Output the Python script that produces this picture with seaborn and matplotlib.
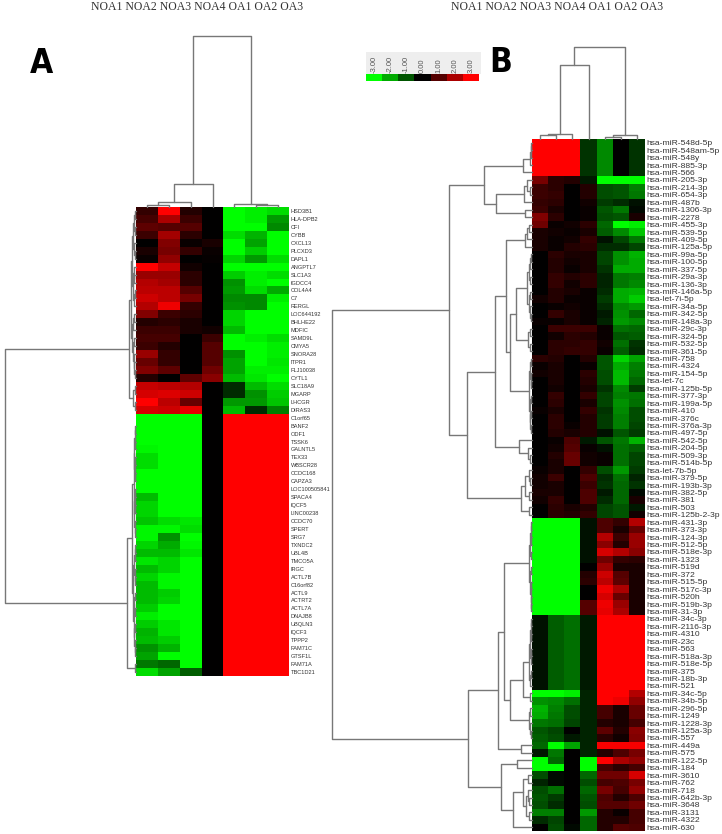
import matplotlib
matplotlib.use("Agg")
import matplotlib.pyplot as plt
from matplotlib.colors import LinearSegmentedColormap
import pandas as pd
import seaborn as sns

W, H = 722, 834

samples = ["NOA1", "NOA2", "NOA3", "NOA4", "OA1", "OA2", "OA3"]

genes = ["HSD3B1", "HLA-DPB2", "CFI", "CYBB", "CXCL13", "PLCXD3", "DAPL1", "ANGPTL7", "SLC1A3", "IGDCC4",
         "COL4A4", "C7", "RERGL", "LOC644192", "BHLHE22", "MDFIC", "SAMD9L", "CMYA5", "SNORA28", "ITPR1",
         "FLJ10038", "CYTL1", "SLC18A9", "MGARP", "LHCGR", "DIRAS3", "C1orf65", "BANF2", "ODF1", "TSSK6",
         "GALNTL5", "TEX33", "WBSCR28", "CCDC168", "CAPZA3", "LOC100505841", "SPACA4", "IQCF5", "LINC00238",
         "CCDC70", "SPERT", "SRG7", "TXNDC2", "UBL4B", "TMCO5A", "IRGC", "ACTL7B", "C16orf82", "ACTL9",
         "ACTRT2", "ACTL7A", "DNAJB8", "UBQLN3", "IQCF3", "TPPP2", "FAM71C", "GTSF1L", "FAM71A", "TBC1D21"]

genes_up = [
    [.6, 3, .4, 0, -3, -2.8, -2.6], [.8, 2, .7, 0, -3, -2.8, -1.8], [1.1, 1, 1, 0, -3, -3, -1.6],
    [.7, 1.9, .5, 0, -2.6, -2.1, -3], [0, 1.5, .1, .3, -3, -1.9, -3], [.3, 1.4, .6, .1, -3, -2.4, -3],
    [.1, 1.7, 0, .05, -2.5, -1.8, -2.6], [3, 2.3, .2, 0, -3, -3, -3], [1.8, 1.8, .5, 0, -2.4, -2.8, -2.6],
    [2.1, 1.9, .5, 0, -1.7, -2.8, -3], [2.2, 2.2, 1, 0, -1.8, -2.6, -2], [2.4, 2.2, 1.4, 0, -1.6, -1.6, -2.8],
    [2.1, 2.8, .6, 0, -1.7, -1.6, -3], [1.5, .7, .5, 0, -2.5, -3, -3], [.4, .5, .3, 0, -2.5, -3, -3],
    [.7, .7, .3, .2, -2.2, -3, -3], [.8, .8, 0, .7, -3, -2.8, -2.6], [.7, .4, 0, 1, -3, -3, -2.8],
    [1.8, .6, 0, 1, -1.7, -3, -2.8], [1.2, .6, 0, 1, -1.9, -3, -2.7], [1.5, 1.1, 0, 1.3, -1.9, -2.8, -2.8],
    [.4, 0, 1.1, 1.6, -2.2, -2.7, -3], [2.3, 2.2, 2.1, 0, -.5, -2.2, -2.6], [2.5, 2.6, 2.4, 0, -.5, -1.7, -2.4],
    [3, 2.2, 1.2, 0, -1.8, -1.8, -2.3], [2.5, 2.4, 2.7, 0, -2.2, -.5, -1.5],
]
genes_down = [
    [-3, -3, -3, 0, 3, 3, 3], [-3, -3, -3, 0, 3, 3, 3], [-3, -3, -3, 0, 3, 3, 3], [-3, -3, -3, 0, 3, 3, 3],
    [-2.9, -3, -3, 0, 3, 3, 3], [-2.6, -3, -3, 0, 3, 3, 3], [-2.6, -3, -3, 0, 3, 3, 3], [-3, -3, -3, 0, 3, 3, 3],
    [-3, -3, -3, 0, 3, 3, 3], [-3, -3, -3, 0, 3, 3, 3], [-2.2, -3, -3, 0, 3, 3, 3], [-2.5, -3, -3, 0, 3, 3, 3],
    [-2.5, -3, -3, 0, 3, 3, 3], [-2.3, -2.6, -2.7, 0, 3, 3, 3], [-2.9, -2.9, -2.6, 0, 3, 3, 3],
    [-2.9, -1.7, -3, 0, 3, 3, 3], [-2.5, -2, -2.9, 0, 3, 3, 3], [-2.2, -2.2, -2.7, 0, 3, 3, 3],
    [-2.7, -2.5, -3, 0, 3, 3, 3], [-2.2, -2.5, -3, 0, 3, 3, 3], [-2.5, -2.9, -3, 0, 3, 3, 3],
    [-2.2, -2.9, -3, 0, 3, 3, 3], [-2.2, -2.4, -3, 0, 3, 3, 3], [-2.2, -2.5, -3, 0, 3, 3, 3],
    [-2.4, -3, -3, 0, 3, 3, 3], [-2.8, -3, -3, 0, 3, 3, 3], [-2.4, -2.7, -3, 0, 3, 3, 3],
    [-2.1, -2.7, -3, 0, 3, 3, 3], [-2.2, -2.4, -3, 0, 3, 3, 3], [-1.7, -2.1, -3, 0, 3, 3, 3],
    [-1.9, -3, -3, 0, 3, 3, 3], [-1.4, -1.2, -3, 0, 3, 3, 3], [-2.6, -1.9, -1.1, 0, 3, 3, 3],
]

mirnas = ["548d-5p", "548am-5p", "548y", "885-3p", "566", "205-3p", "214-3p", "654-3p", "487b", "1306-3p", "2278",
          "455-3p", "539-5p", "409-5p", "125a-5p", "99a-5p", "100-5p", "337-5p", "29a-3p", "136-3p", "146a-5p",
          "let-7i-5p", "34a-5p", "342-5p", "148a-3p", "29c-3p", "324-5p", "532-5p", "361-5p", "758", "4324",
          "154-5p", "let-7c", "125b-5p", "377-3p", "199a-5p", "410", "376c", "376a-3p", "497-5p", "542-5p",
          "204-5p", "509-3p", "514b-5p", "let-7b-5p", "379-5p", "193b-3p", "382-5p", "381", "503", "125b-2-3p",
          "431-3p", "373-3p", "124-3p", "512-5p", "518e-3p", "1323", "519d", "372", "515-5p", "517c-3p", "520h",
          "519b-3p", "31-3p", "34c-3p", "2116-3p", "4310", "23c", "563", "518a-3p", "518e-5p", "375", "18b-3p",
          "521", "34c-5p", "34b-5p", "296-5p", "1249", "1228-3p", "125a-3p", "557", "449a", "575", "122-5p",
          "184", "3610", "762", "718", "642b-3p", "3648", "3131", "4322", "630"]

mirna_rows = [
    [3, 3, 3, -.6, -1.6, 0, -.6], [3, 3, 3, -.6, -1.6, 0, -.6], [3, 3, 3, -.6, -1.6, 0, -.6],
    [3, 3, 3, -.6, -1.6, 0, -.6], [3, 3, 3, -.6, -1.6, 0, -.6], [1.4, .5, .4, -.3, -3, -3, -3],
    [.7, .5, 0, .4, -.9, -1, -1.5], [.7, .6, 0, .4, -.9, -1, -1.4], [.6, .5, 0, .2, -.7, -.5, -.2],
    [.7, .3, 0, .1, -1, -1.4, -.1], [1.5, .5, 0, .1, -.9, -1, .3], [1.3, .1, .2, .5, -1.2, -3, -2.8],
    [.3, .2, .1, .3, -1.1, -1.6, -2.3], [.3, .1, .2, .6, -.2, -.8, -1.4], [.3, .1, .4, .5, -.5, -.5, -.8],
    [0, .5, .3, .3, -.8, -1.7, -2.1], [0, .4, .2, .3, -.8, -1.7, -2], [0, .4, .1, .3, -.6, -2, -2],
    [0, .6, .4, .5, -.4, -1.4, -1.5], [0, .6, .2, .5, -.4, -1.4, -1.6], [0, .4, .3, .1, -.5, -2, -2.1],
    [.2, .4, .1, .1, -.7, -2, -2.4], [0, .1, .2, .1, -.5, -1.6, -1.8], [0, .6, .3, .1, -.3, -1.7, -1.2],
    [.1, .1, .3, .1, -.4, -1.8, -1.6], [0, .7, .7, .7, .1, -1.3, -1.2], [0, .2, .5, .4, .1, -1, -1.1],
    [0, .5, .5, .6, .2, -1.3, -.6], [0, .5, .6, .6, .1, -1.1, -.5], [.5, .4, 0, .4, -1, -2.5, -1.9],
    [.1, .3, 0, .1, -1, -2, -1.5], [.2, .3, 0, .5, -.9, -2.2, -1.4], [0, .3, 0, .4, -.9, -2.2, -1.2],
    [0, .2, 0, .3, -.6, -1.6, -.7], [0, .6, 0, .6, -.8, -1.5, -1.4], [0, .5, 0, .3, -.8, -1.7, -1.3],
    [.1, .3, 0, .6, -.6, -1.6, -.9], [0, .5, 0, .4, -.7, -1.5, -.9], [0, .5, .1, .4, -.7, -1.5, -.8],
    [0, .4, .3, .4, -.2, -1, -.7], [0, .1, .9, -.3, -1, -1.4, -2.1], [0, .2, 1, .1, -.2, -1.3, -1.1],
    [0, .4, 1.2, .2, .1, -1.3, -.8], [0, .3, 1.2, .2, .1, -1.3, -.8], [.1, .3, 0, .6, -.9, -1.8, -.7],
    [.2, .7, 0, .9, -.5, -1.3, -.4], [.2, .3, 0, .7, -.6, -1.2, -.6], [.3, .3, 0, .9, -.3, -1.2, -.1],
    [.2, .6, 0, .9, -.5, -1.2, .3], [0, .5, .3, .4, -.8, -1, -.3], [0, .5, .4, .6, -.8, -1, .2],
    [-3, -3, -3, -.2, .9, .6, 2.1], [-3, -3, -3, -.2, .9, .3, 1.2], [-3, -3, -3, -.2, 2.1, .7, 1.8],
    [-3, -3, -3, -.2, 1.6, .4, 1.8], [-3, -3, -3, -.2, 2.5, 2.1, 1.6], [-3, -3, -3, -.2, 1.3, .6, .5],
    [-3, -3, -3, 0, 1.8, .3, .3], [-3, -3, -3, .4, 2.4, 1, .3], [-3, -3, -3, .5, 2.2, 1.1, .3],
    [-3, -3, -3, 0, 2.8, 2, .3], [-3, -3, -3, 0, 2.5, 1.2, .3], [-3, -3, -3, 1, 2.8, 1.8, .3],
    [-3, -3, -3, 1, 2.7, 2, .3], [-.2, -1.1, -1.3, -.3, 3, 3, 3], [-.2, -1.1, -1.3, -.3, 3, 3, 3],
    [-.2, -1.1, -1.3, -.3, 3, 3, 3], [-.2, -1.1, -1.3, -.3, 3, 3, 3], [-.2, -1.1, -1.3, -.3, 3, 3, 3],
    [-.2, -1.1, -1.3, -.3, 3, 3, 3], [-.2, -1.1, -1.3, -.3, 3, 3, 3], [-.2, -1.1, -1.3, -.3, 3, 3, 3],
    [-.2, -1.1, -1.3, -.3, 3, 3, 3], [-.2, -1.1, -1.3, -.3, 3, 3, 3], [-3, -3, -2.8, -.4, 3, 3, 2.1],
    [-1.7, -1.6, -1.3, -.4, 3, 2.8, 1.7], [-2.1, -1.5, -.9, -.4, .8, .3, 1.2], [-2, -1.4, -.9, -.4, .8, .3, 1.2],
    [-1.4, -1.3, -.8, -.4, .4, .3, .8], [-1, -.8, 0, -.4, 1.1, .4, 1.6], [-1.1, -.9, -.3, -.4, .5, .2, 1.5],
    [-1.2, -3, -1.9, -.4, 2.9, 2.9, 2.9], [-.3, -1.4, 0, -.4, .4, .9, 1.4], [-3, -1.2, 0, -3, 3, 2, 1.7],
    [-3, -3, 0, -3, .8, .5, .8], [-.9, -.1, 0, -1.2, 1.3, 1.3, 2.5], [-.4, -.1, 0, -.9, .8, .9, 1.4],
    [-.9, -1.3, 0, -1.2, 1.4, .8, 1.7], [-1, -.7, 0, -1, .9, .4, .9], [-.9, -.5, 0, -.9, 1, 1, 1.3],
    [-1.5, -1.5, 0, -1.8, .4, .1, .8], [-.5, -.8, 0, -1.2, .4, .4, .8], [0, -.9, -.1, -1.2, .4, 1, .9],
]

legend_values = [-3, -2, -1, 0, 1, 2, 3]
legend_labels = ["-3.00", "-2.00", "-1.00", "0.00", "1.00", "2.00", "3.00"]

# dendrograms: (merge height, left child, right child), an int child is a row/column number
genes_col_tree = (171, (23, (5.5, (2.5, 0, 1), 2), 3), (2.8, 4, (2, 5, 6)))
mirnas_col_tree = (92, (73.5, (5.5, (4, 0, 1), 2), 3), (4, (2.5, 4, 5), 6))

g_top = (4.5, (3.5, (2.5, (1.5, 0, 1), (1.5, 2, 3)), (2.5, 4, (1.5, 5, 6))),
         (3.5, (2.5, 7, (2, 8, 9)), (2.5, (1.5, 10, 11), 12)))
g_mid = (4, (3, (2, 13, 14), 15), (3, (2, 16, 17), (2.5, 18, (2, 19, (1.5, 20, 21)))))
g_red = (3, (1.5, 22, 23), (1.5, 24, 25))
g_low1 = (2.5, (2, (1.5, (1, 27, 28), (1, 29, 30)), (1.5, (1, 31, 32), (1, 33, 34))),
          (2, (1.5, (1, 35, 36), (1, 37, 38)), (1.5, 39, (1, 40, 41))))
g_low2 = (3, (2, (1.5, (1, 42, 43), 44), (1.5, 45, (1, 46, 47))),
          (2.5, (2, (1.5, 48, 49), (1.5, 50, 51)), (2, (1.5, 52, 53), (1.5, 54, (1, 55, 56)))))
genes_row_tree = (131, (7, (5.5, g_top, g_mid), g_red), (9.3, (4.5, g_low1, g_low2), (1.5, 57, 58)))

m_a = (48, (9.4, (2.5, (1.5, (1, 0, 1), 2), 3), 4), (36, (8, (5, 5, (2, 6, 7)), 8), (7, 9, 10)))
m_b = (7, (5, (3, 11, 12), 13), 14)
m_c = (16, (5, (3.5, (2.5, (1.5, 15, 16), 17), (2.5, 18, 19)), (3, (2, 20, 21), (2.5, 22, (1.5, 23, 24)))),
       (4, (2, 25, 26), (2, 27, 28)))
m_d = (3, (2, (1.5, 29, 30), (1.5, 31, (1, 32, 33))), (2.5, (1.5, 34, 35), (2, (1, 36, 37), (1, 38, 39))))
m_e = (13, 40, (4, 41, (2, 42, 43)))
m_f = (11, (7, (3, 44, (2, 45, 46)), (3, 47, 48)), (3, 49, 50))
m_upper = (83, m_a, (65, (37, (26, m_b, (22, m_c, m_d)), m_e), m_f))

m_g = (3, (2, (1.5, (1, 51, 52), (1, 53, 54)), (1, 55, 56)), (2, (1.5, 57, 58), (1.5, (1, 59, 60), (1.5, 61, (1, 62, 63)))))
m_h = (3, (2, (1.5, (1, 64, 65), (1, 66, 67)), (1.5, (1, 68, 69), 70)), (2, (1, 71, 72), 73))
m_i = (3.5, (2, 76, 77), (2.5, 78, (1.5, 79, 80)))
m_j = (9, (4, 85, 86), (6, (4, 87, (3, 88, 89)), (3, 90, 91)))
m_lower = (64, (34, (27.7, m_g, (22, (9.3, m_h, (2, 74, 75)), m_i)), (11, 81, 82)), (31, (15, 83, 84), (19, m_j, 92)))
mirnas_row_tree = (200, m_upper, m_lower)

sns.set_theme(style="white")
plt.rcParams["font.family"] = ["Liberation Sans", "DejaVu Sans"]

fig = plt.figure(figsize=(W / 100, H / 100), dpi=100)
gene_df = pd.DataFrame(genes_up + genes_down, index=genes, columns=samples)
mirna_df = pd.DataFrame(mirna_rows, index=["hsa-miR-" + m if not m.startswith("let") else "hsa-" + m for m in mirnas],
                        columns=samples)
green_red = LinearSegmentedColormap.from_list("green_red", ["#00ff00", "#000000", "#ff0000"])


def px_axes(x0, y0, x1, y1):
    # axes from pixel box, y counted from the top of the picture
    return fig.add_axes([x0 / W, 1 - y1 / H, (x1 - x0) / W, (y1 - y0) / H])


def draw_tree(ax, node, vertical):
    # returns leaf position of the node, draws the brackets on the way
    if isinstance(node, int):
        return node + 0.5, 0
    h, left, right = node
    p1, h1 = draw_tree(ax, left, vertical)
    p2, h2 = draw_tree(ax, right, vertical)
    pos = [p1, p1, p2, p2]
    hts = [h1, h, h, h2]
    if vertical:
        ax.plot(pos, hts, color="#777777", lw=1, clip_on=False)
    else:
        ax.plot(hts, pos, color="#777777", lw=1, clip_on=False)
    return (p1 + p2) / 2, h


def panel(df, box, col_tree, row_tree, col_h, row_w, fontsize, pad):
    x0, y0, x1, y1 = box
    ax = px_axes(x0, y0, x1, y1)
    sns.heatmap(df, ax=ax, cmap=green_red, vmin=-3, vmax=3, cbar=False, xticklabels=False,
                yticklabels=True, linewidths=0)
    ax.yaxis.tick_right()
    ax.tick_params(axis="y", length=0, pad=pad, labelrotation=0, labelsize=fontsize, labelcolor="#333333")
    ax.set_xlabel("")
    ax.set_ylabel("")

    top = px_axes(x0, y0 - col_h, x1, y0)
    top.set_xlim(0, len(df.columns))
    top.set_ylim(0, col_h)
    top.axis("off")
    draw_tree(top, col_tree, True)

    side = px_axes(x0 - row_w, y0, x0, y1)
    side.set_xlim(row_w, 0)
    side.set_ylim(len(df), 0)
    side.axis("off")
    draw_tree(side, row_tree, False)


panel(gene_df, (136, 207, 289, 676), genes_col_tree, genes_row_tree, 180, 136, 4.05, 1.2)
panel(mirna_df, (532, 139, 645, 831), mirnas_col_tree, mirnas_row_tree, 100, 210, 6.1, 0.7)

# colour key
key_bg = px_axes(366, 52, 480.5, 74)
key_bg.set_facecolor("#eeeeee")
key_bg.set_xticks([])
key_bg.set_yticks([])
sns.despine(ax=key_bg, left=True, bottom=True)

key = px_axes(366, 74, 479, 81)
sns.heatmap(pd.DataFrame([legend_values]), ax=key, cmap=green_red, vmin=-3, vmax=3, cbar=False,
            xticklabels=legend_labels, yticklabels=False)
key.xaxis.tick_top()
key.tick_params(axis="x", length=0, pad=1, labelsize=5.5, labelcolor="#555555", labelrotation=90)

# column headers and panel letters
header = " ".join(samples)
fig.text(91 / W, 1 - 7 / H, header, family="Liberation Serif", fontsize=8.5, color="#333333", va="center", ha="left")
fig.text(451 / W, 1 - 7 / H, header, family="Liberation Serif", fontsize=8.5, color="#333333", va="center", ha="left")
fig.text(41.5 / W, 1 - 63.5 / H, "A", family="DejaVu Sans", stretch="condensed", fontsize=24, fontweight="bold",
         color="black", va="center", ha="center")
fig.text(501 / W, 1 - 62.5 / H, "B", family="DejaVu Sans", stretch="condensed", fontsize=24, fontweight="bold",
         color="black", va="center", ha="center")

fig.savefig("out.png", dpi=100)
